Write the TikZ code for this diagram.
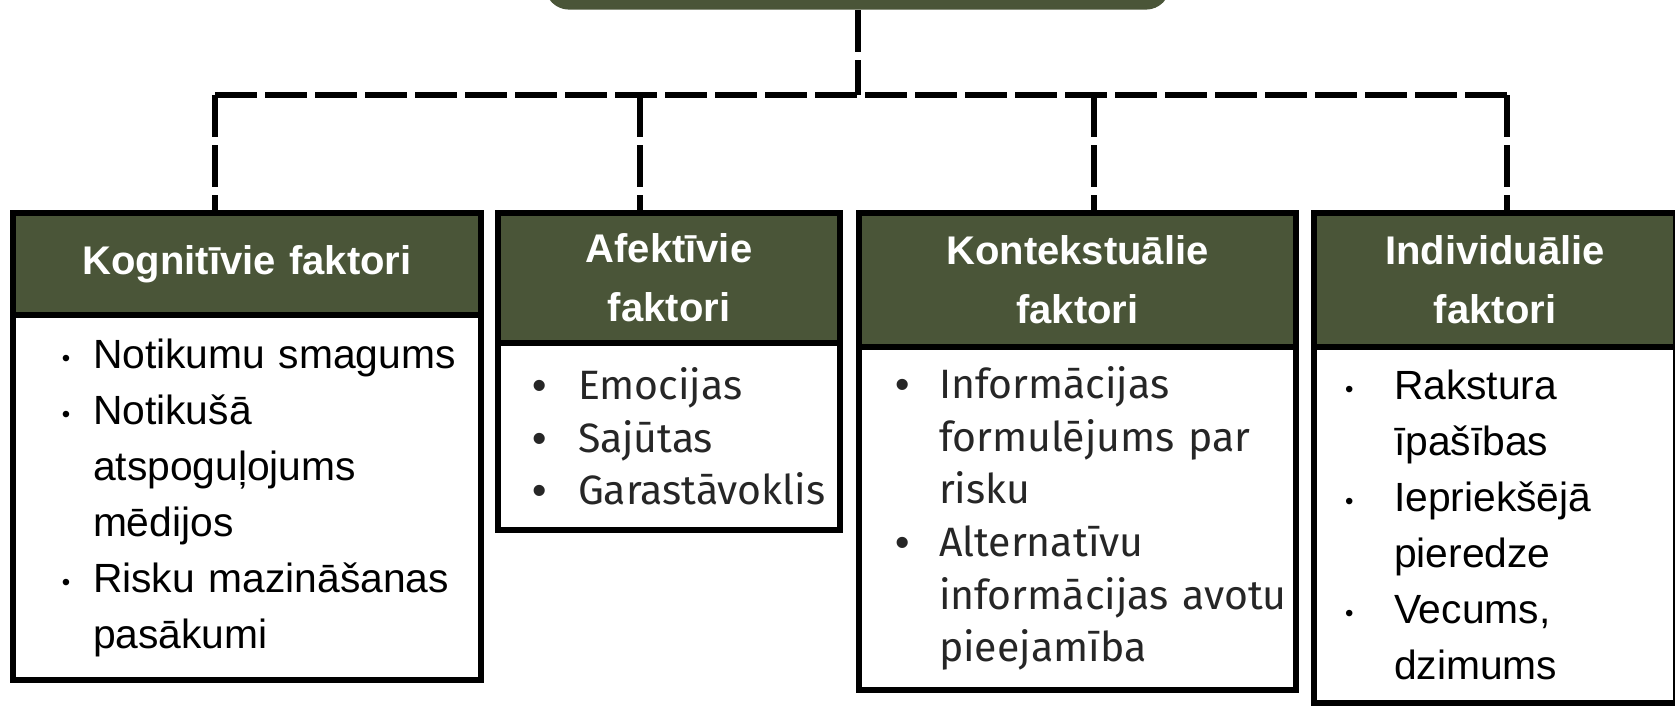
\documentclass[tikz,border=0pt]{standalone}
\usepackage{fontspec}
\setmainfont{Liberation Sans}
\newfontfamily\plexfont{Fira Sans}
\usetikzlibrary{positioning}

\definecolor{hdrgreen}{RGB}{74,85,56}

% bullet items with hanging indent
\newcommand{\sbul}{\raisebox{1pt}{\fontsize{12}{12}\selectfont\textbullet}}
\newcommand{\bbul}{{\rmfamily\textbullet}}
\newcommand{\fitem}[2]{\hangindent=40pt\hangafter=1\noindent\makebox[40pt][l]{#1}#2\par}

\tikzset{
  hdrbox/.style={draw=black, line width=3pt, fill=hdrgreen, text=white, inner sep=0pt, outer sep=0pt,
    font=\bfseries\fontsize{20}{29.5}\selectfont, align=center, anchor=north west},
  bodybox/.style={draw=black, line width=3pt, fill=white, inner sep=0pt, outer sep=0pt,
    align=left, anchor=north west},
  arialtxt/.style={font=\fontsize{20.4}{28}\selectfont},
  plextxt/.style={font=\plexfont\fontsize{20.5}{26.3}\selectfont, text=black!85},
  conn/.style={draw=black, line width=3pt, dash pattern=on 21pt off 4pt}
}

\begin{document}
\begin{tikzpicture}[x=0.5pt, y=-0.5pt]
            \useasboundingbox (0,0) rectangle (1675,708);
            \clip (0,0) rectangle (1675,708);

            \node [fill=hdrgreen, rounded corners=12pt, minimum width=312.5pt, minimum height=60pt, inner sep=0pt, anchor=south] (topbox) at (857.5,10) {};

            % headers
            \node [hdrbox, text width=234pt, minimum height=51pt] (hdrKog) at (13,213) {Kognitīvie faktori};
            \node [hdrbox, text width=171pt, minimum height=65pt] (hdrAfe) at (498,213) {Afektīvie\\faktori};
            \node [hdrbox, text width=218.5pt, minimum height=67pt] (hdrKon) at (859,213) {Kontekstuālie\\faktori};
            \node [hdrbox, text width=181pt, minimum height=67pt] (hdrInd) at (1314,213) {Individuālie\\faktori};

            % lists
            \node [bodybox, arialtxt, text width=234pt, minimum height=182.5pt, below=0pt of hdrKog.south west, anchor=north west] (bodyKog) {%
              \fitem{\hspace{24.5pt}\sbul}{Notikumu smagums}
              \fitem{\hspace{24.5pt}\sbul}{Notikušā\newline atspoguļojums\newline mēdijos}
              \fitem{\hspace{24.5pt}\sbul}{Risku mazināšanas\newline pasākumi}};
            \node [bodybox, plextxt, text width=171pt, minimum height=93.5pt, below=0pt of hdrAfe.south west, anchor=north west] (bodyAfe) {%
              \fitem{\hspace{17pt}\bbul}{Emocijas}
              \fitem{\hspace{17pt}\bbul}{Sajūtas}
              \fitem{\hspace{17pt}\bbul}{Garastāvoklis}};
            \node [bodybox, plextxt, text width=218.5pt, minimum height=171.5pt, below=0pt of hdrKon.south west, anchor=north west] (bodyKon) {%
              \fitem{\hspace{18pt}\bbul}{Informācijas\newline formulējums par\newline risku}
              \fitem{\hspace{18pt}\bbul}{Alternatīvu\newline informācijas avotu\newline pieejamība}};
            \node [bodybox, arialtxt, text width=181pt, minimum height=178pt, below=0pt of hdrInd.south west, anchor=north west] (bodyInd) {%
              \fitem{\hspace{15.5pt}\sbul}{Rakstura\newline īpašības}
              \fitem{\hspace{15.5pt}\sbul}{Iepriekšējā\newline pieredze}
              \fitem{\hspace{15.5pt}\sbul}{Vecums,\newline dzimums}};

            % dashed connectors
            \coordinate (busKog) at (215,95);
            \coordinate (busAfe) at (640,95);
            \coordinate (busKon) at (1094,95);
            \coordinate (busInd) at (1507,95);
            \draw [conn] (topbox.south) -- (topbox.south |- busKog);
            \draw [conn] (busKog) -- (busInd);
            \draw [conn] (busKog) -- (busKog |- hdrKog.north);
            \draw [conn] (busAfe) -- (busAfe |- hdrAfe.north);
            \draw [conn] (busKon) -- (busKon |- hdrKon.north);
            \draw [conn] (busInd) -- (busInd |- hdrInd.north);
        \end{tikzpicture}
\end{document}
